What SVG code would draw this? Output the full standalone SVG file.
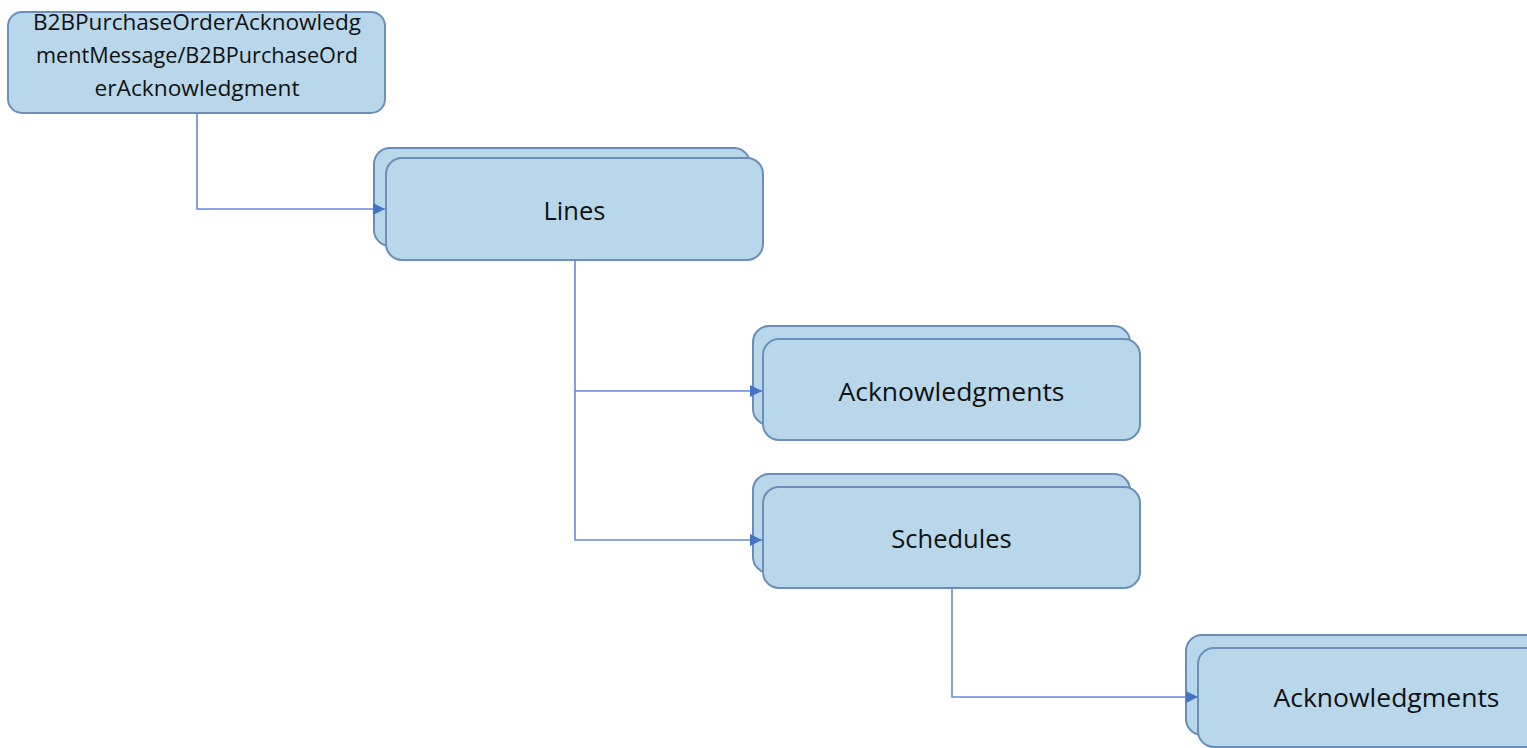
<svg xmlns="http://www.w3.org/2000/svg" width="1527" height="748" viewBox="0 0 1527 748">
<defs>
<style>
.box{fill:#b9d7ea;stroke:#6b8fb8;stroke-width:2}
.t{font-family:"Open Sans","Liberation Sans",sans-serif;fill:#111;text-anchor:middle}
.c{fill:none;stroke:#6688dd;stroke-width:1.6}
</style>
<marker id="ah" viewBox="0 0 10 10" refX="10" refY="5" markerWidth="12" markerHeight="12" markerUnits="userSpaceOnUse" orient="auto">
<path d="M0,0 L10,5 L0,10 z" fill="#4472c4"/>
</marker>
</defs>
<rect width="1527" height="748" fill="#fff"/>
<g id="root">
<rect class="box" x="8" y="12" width="377" height="101" rx="14"/>
<text class="t" font-size="21.5"><tspan x="197" y="30" textLength="328" lengthAdjust="spacingAndGlyphs">B2BPurchaseOrderAcknowledg</tspan><tspan x="197" y="63" textLength="322" lengthAdjust="spacingAndGlyphs">mentMessage/B2BPurchaseOrd</tspan><tspan x="197" y="96" textLength="205" lengthAdjust="spacingAndGlyphs">erAcknowledgment</tspan></text>
</g>
<g id="lines">
<rect class="box" x="374" y="148" width="376" height="98" rx="16"/>
<rect class="box" x="386" y="158" width="377" height="102" rx="16"/>
<text class="t" x="574.5" y="220" font-size="25.5">Lines</text>
</g>
<g id="acknowledgments1">
<rect class="box" x="753" y="326" width="377" height="99" rx="16"/>
<rect class="box" x="763" y="339" width="377" height="101" rx="16"/>
<text class="t" x="951.5" y="401" font-size="25.5" textLength="226" lengthAdjust="spacingAndGlyphs">Acknowledgments</text>
</g>
<g id="schedules">
<rect class="box" x="753" y="474" width="377" height="99" rx="16"/>
<rect class="box" x="763" y="487" width="377" height="101" rx="16"/>
<text class="t" x="951.5" y="548" font-size="25.5">Schedules</text>
</g>
<g id="acknowledgments2">
<rect class="box" x="1186" y="635" width="377" height="100" rx="16"/>
<rect class="box" x="1198" y="648" width="377" height="99" rx="16"/>
<text class="t" x="1386.5" y="707" font-size="25.5" textLength="226" lengthAdjust="spacingAndGlyphs">Acknowledgments</text>
</g>
<g id="connectors">
<polyline class="c" points="197,113 197,209 385,209" marker-end="url(#ah)"/>
<polyline class="c" points="575,260 575,391 762,391" marker-end="url(#ah)"/>
<polyline class="c" points="575,391 575,540 762,540" marker-end="url(#ah)"/>
<polyline class="c" points="952,588 952,697 1198,697" marker-end="url(#ah)"/>
</g>
</svg>
